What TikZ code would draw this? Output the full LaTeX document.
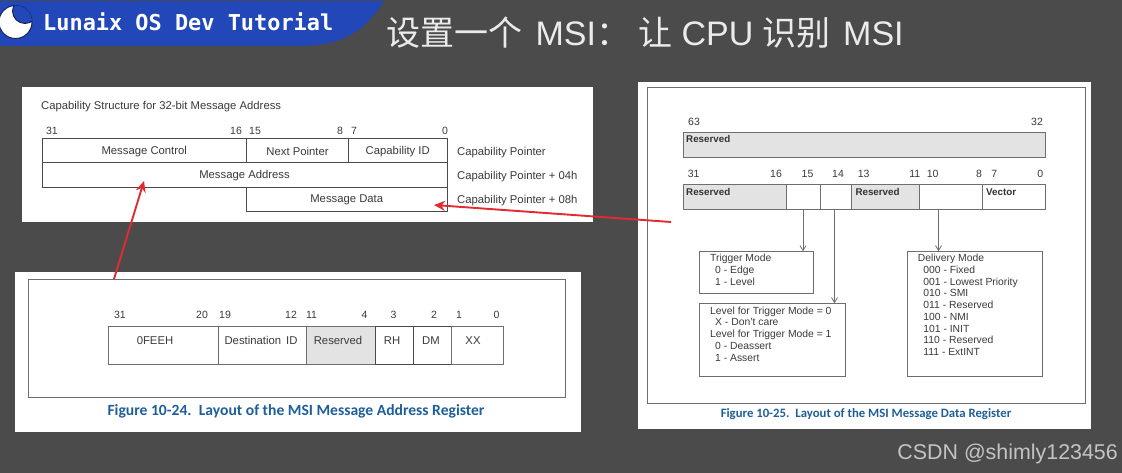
\documentclass[tikz,border=0pt]{standalone}
\usepackage{fontspec}
\setmainfont{Liberation Sans}
\newfontfamily\cjk{Noto Sans CJK SC}
\newfontfamily\capfont{Carlito}
\newfontfamily\banfont{DejaVu Sans Mono}
\usetikzlibrary{arrows.meta}
\definecolor{bgc}{HTML}{4B4B4B}
\definecolor{banc}{HTML}{2147B9}
\definecolor{moonline}{HTML}{141A50}
\definecolor{txtc}{HTML}{3A3A3A}
\definecolor{linec}{HTML}{6E6E6E}
\definecolor{darkl}{HTML}{4A4A4A}
\definecolor{resc}{HTML}{E3E3E3}
\definecolor{capc}{HTML}{1F5F99}
\definecolor{redc}{HTML}{E02B30}
\definecolor{markc}{HTML}{C4C4C4}
\newcommand{\rectnode}[6]{\node[#6,inner sep=0pt,outer sep=0pt,minimum width={(#4-#2)*1pt},minimum height={(#5-#3)*1pt}] (#1) at ({(#2+#4)/2},{(#3+#5)/2}) {};}
\tikzset{
  panel/.style={fill=white},
  frameb/.style={draw=linec,line width=0.9pt},
  cellb/.style={draw=darkl,line width=0.8pt},
  cellg/.style={draw=linec,line width=0.9pt},
  resv/.style={draw=linec,line width=0.9pt,fill=resc},
  lab/.style={inner sep=0pt,text=txtc,font=\fontsize{11.3}{13}\selectfont},
  labw/.style={lab,anchor=west},
  bitn/.style={inner sep=0pt,text=txtc,font=\fontsize{10.5}{12}\selectfont},
  boldl/.style={inner sep=0pt,anchor=west,text=black!80,font=\fontsize{9.8}{11}\selectfont\bfseries},
  listt/.style={inner sep=0pt,anchor=north west,align=left,text=txtc,font=\fontsize{10.35}{11.75}\selectfont},
  capt/.style={inner sep=0pt,text=capc,font=\capfont\bfseries},
  redarrow/.style={draw=redc,line width=1.9pt,-{Stealth[length=11pt,width=10pt]}},
  greyarrow/.style={draw=darkl!80,line width=0.8pt,-{Straight Barb[length=5pt,width=6pt]}},
}
\begin{document}
\begin{tikzpicture}[x=1pt,y=-1pt]
\useasboundingbox (0,0) rectangle (1122,473);
\fill[bgc] (0,0) rectangle (1122,473);
% banner
\fill[banc] (0,1) -- (384,1) .. controls (365,30) and (345,46) .. (298,46) -- (0,46) -- cycle;
\fill[white,draw=moonline,line width=0.9pt] (15.5,22) circle (16.5);
\begin{scope}
\clip (15.5,22) circle (16.5);
\fill[banc,draw=moonline,line width=0.9pt] (25,11) circle (12.5);
\end{scope}
\node[inner sep=0pt,anchor=west,text=white,font=\banfont\bfseries\fontsize{21.9}{24}\selectfont] (brand) at (43,22) {Lunaix OS Dev Tutorial};
\node[inner sep=0pt,anchor=west,text=white!92!black,font=\fontsize{34}{38}\selectfont] (title) at (386,33) {{\cjk 设置一个}\hspace{4pt} MSI{\cjk ：}\hspace{8pt}{\cjk 让} CPU {\cjk 识别}\hspace{3pt} MSI};
% panel A
\rectnode{pa}{22}{87}{593}{222}{panel}
\node[lab,anchor=west] (pat) at (41,106.5) {Capability Structure for 32-bit Message Address};
\foreach \n/\x/\t in {a/52/31,b/236/16,c/255/15,d/340/8,e/354/7,f/445/0}
  \node[bitn] (pa\n) at (\x,130.5) {\t};
\rectnode{mctl}{42}{138.5}{246.5}{162.5}{cellb}
\rectnode{nptr}{246.5}{138.5}{348.5}{162.5}{cellb}
\rectnode{cid}{348.5}{138.5}{447}{162.5}{cellb}
\rectnode{maddr}{42}{162.5}{447}{187}{cellb}
\rectnode{mdata}{246.5}{187}{447}{211.5}{cellb}
\node[lab] (t1) at ([yshift=-1pt]mctl) {Message Control};
\node[lab] (t2) at ([yshift=-1pt]nptr) {Next Pointer};
\node[lab] (t3) at ([yshift=-1pt]cid) {Capability ID};
\node[lab] (t4) at ([yshift=-1pt]maddr) {Message Address};
\node[lab] (t5) at ([yshift=-1pt]mdata) {Message Data};
\node[labw] (p0) at (457,152.5) {Capability Pointer};
\node[labw] (p4) at (457,176.5) {Capability Pointer + 04h};
\node[labw] (p8) at (457,201) {Capability Pointer + 08h};
% panel B
\rectnode{pb}{15}{272}{581}{431.5}{panel}
\rectnode{fb}{28}{279.5}{565}{397.5}{frameb}
\foreach \n/\x/\t in {a/120/31,b/202/20,c/225/19,d/291/12,e/311.5/11,f/364.5/4,g/393.5/3,h/434/2,i/459/1,j/496.5/0}
  \node[bitn] (pb\n) at (\x,314.5) {\t};
\rectnode{b1}{108}{326}{218}{364.5}{cellg}
\rectnode{b2}{218}{326}{306}{364.5}{cellg}
\rectnode{b3}{306}{326}{375.5}{364.5}{resv}
\rectnode{b4}{375.5}{326}{413.5}{364.5}{cellb}
\rectnode{b5}{413.5}{326}{451.5}{364.5}{cellb}
\rectnode{b6}{451.5}{326}{503}{364.5}{cellg}
\node[lab] (bt1) at (155,340.5) {0FEEH};
\node[lab] (bt2) at (261,340.5) {Destination\, ID};
\node[lab] (bt3) at (338,340.5) {Reserved};
\node[lab] (bt4) at (392,340.5) {RH};
\node[lab] (bt5) at (431,340.5) {DM};
\node[lab] (bt6) at (473,340.5) {XX};
\node[capt,font=\capfont\bfseries\fontsize{15.6}{17}\selectfont] (capb) at (296,411.5) {Figure 10-24.\, Layout of the MSI Message Address Register};
% panel C
\rectnode{pc}{638}{82}{1091}{429}{panel}
\rectnode{fc}{647.5}{87.5}{1085}{403}{frameb}
\node[bitn] (c63) at (694,122) {63};
\node[bitn] (c32) at (1037,122) {32};
\rectnode{r1}{683}{132}{1045}{157}{resv}
\node[boldl] (r1t) at (686,139) {Reserved};
\foreach \n/\x/\t in {a/693.7/31,b/776/16,c/807.5/15,d/838/14,e/863.7/13,f/914.7/11,g/932.7/10,h/979/8,i/994.3/7,j/1040.3/0}
  \node[bitn] (cb\n) at (\x,173.7) {\t};
\rectnode{c1}{683}{184.5}{786.5}{209.5}{resv}
\rectnode{c2}{786.5}{184.5}{820.5}{209.5}{cellg}
\rectnode{c3}{820.5}{184.5}{851.5}{209.5}{cellg}
\rectnode{c4}{851.5}{184.5}{919.5}{209.5}{resv}
\rectnode{c5}{919.5}{184.5}{982}{209.5}{cellg}
\rectnode{c6}{982}{184.5}{1045}{209.5}{cellg}
\node[boldl] (c1t) at (686,192) {Reserved};
\node[boldl] (c4t) at (855.3,192) {Reserved};
\node[boldl] (c6t) at (986,192) {Vector};
\rectnode{trig}{699.5}{251.3}{813.5}{293.3}{cellg}
\rectnode{lvl}{699.5}{303.3}{845}{376.7}{cellg}
\rectnode{deliv}{907}{251.3}{1042.5}{376.7}{cellg}
\draw[greyarrow] (c2.south -| 803,0) -- (trig.north -| 803,0);
\draw[greyarrow] (c3.south -| 834.5,0) -- (lvl.north -| 834.5,0);
\draw[greyarrow] (c5.south -| 938.5,0) -- (deliv.north -| 938.5,0);
\node[listt] (trigt) at (710,254) {Trigger Mode\\\hspace*{5pt}0 - Edge\\\hspace*{5pt}1 - Level};
\node[listt] (lvlt) at (710,306.3) {Level for Trigger Mode = 0\\\hspace*{5pt}X - Don't care\\Level for Trigger Mode = 1\\\hspace*{5pt}0 - Deassert\\\hspace*{5pt}1 - Assert};
\node[listt] (delt) at (917.7,254) {Delivery Mode\\\hspace*{5.5pt}000 - Fixed\\\hspace*{5.5pt}001 - Lowest Priority\\\hspace*{5.5pt}010 - SMI\\\hspace*{5.5pt}011 - Reserved\\\hspace*{5.5pt}100 - NMI\\\hspace*{5.5pt}101 - INIT\\\hspace*{5.5pt}110 - Reserved\\\hspace*{5.5pt}111 - ExtINT};
\node[capt,font=\capfont\bfseries\fontsize{12.75}{14}\selectfont] (capc) at (866,414) {Figure 10-25.\, Layout of the MSI Message Data Register};
% red connectors
\coordinate (r1a) at (114,279);
\coordinate (r1b) at (144,181);
\coordinate (r2a) at (671,222);
\coordinate (r2b) at (434,205);
\draw[redarrow] (r1a) -- (r1b);
\draw[redarrow] (r2a) -- (r2b);
% watermark
\node[inner sep=0pt,anchor=east,text=markc,font=\fontsize{21.4}{24}\selectfont] (mark) at (1118,454) {CSDN @shimly123456};
\end{tikzpicture}
\end{document}
